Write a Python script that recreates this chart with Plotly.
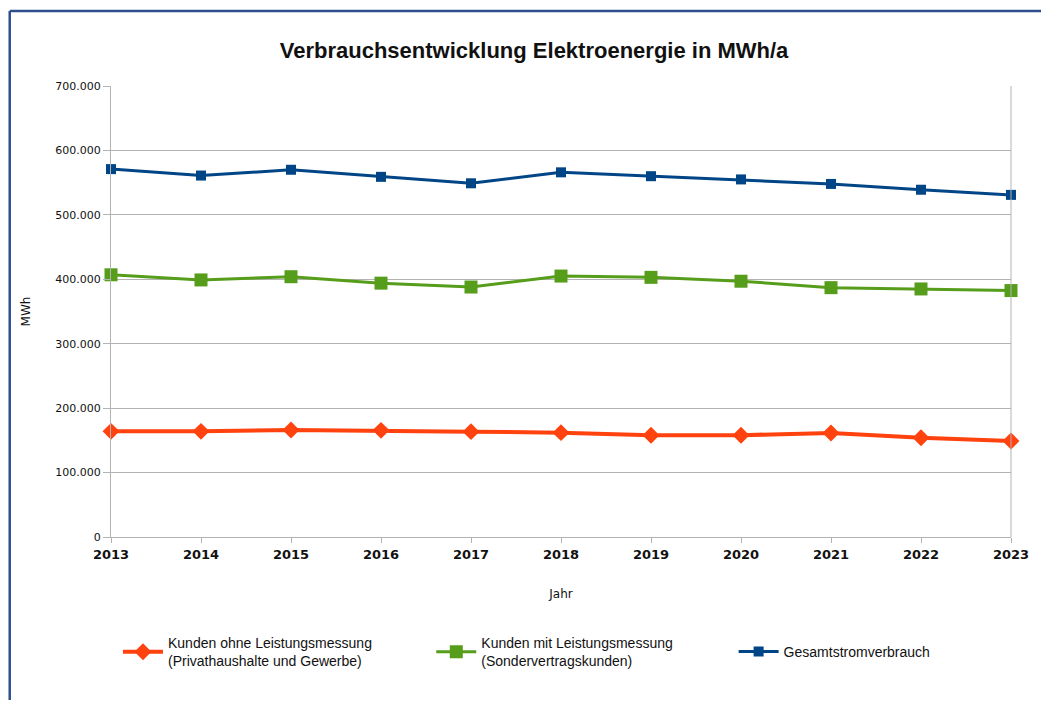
import plotly.graph_objects as go

jahre = [2013, 2014, 2015, 2016, 2017, 2018, 2019, 2020, 2021, 2022, 2023]
ohne_leistung = [164000, 164000, 166000, 165500, 163500, 162000, 158000, 158000, 161500, 154000, 149000]
mit_leistung = [407000, 399000, 404000, 394000, 388000, 405000, 403000, 397000, 387000, 385000, 382500]
gesamt = [571000, 561000, 570000, 559000, 549000, 566000, 560000, 555000, 548000, 539000, 531000]
y_ticks = [0, 100000, 200000, 300000, 400000, 500000, 600000, 700000]
y_ticktext = ["0", "100.000", "200.000", "300.000", "400.000", "500.000", "600.000", "700.000"]

names = ["Kunden ohne Leistungsmessung<br>(Privathaushalte und Gewerbe)",
         "Kunden mit Leistungsmessung<br>(Sondervertragskunden)",
         "Gesamtstromverbrauch"]

RED = "#FF420E"
GREEN = "#579D1C"
BLUE = "#004586"

# page has an 8px body margin; figure is laid out so page coordinates match the reference
OFF = 8
W, H = 1049 - 2 * OFF, 708 - 2 * OFF
PL, PR, PT, PB = 111, 1013, 86, 537  # plot area in page pixels
L = PL - OFF
R = W - (PR - OFF)
T = PT - OFF
B = H - (PB - OFF)
pw, ph = PR - PL, PB - PT

def px(x):
    return (x - PL) / pw

def py(y):
    return (PB - y) / ph

fig = go.Figure()
fig.add_trace(go.Scatter(x=jahre, y=ohne_leistung, name=names[0], mode="lines+markers",
                         line=dict(color=RED, width=4),
                         marker=dict(symbol="diamond", size=13, color=RED), cliponaxis=False,
                         legend="legend"))
fig.add_trace(go.Scatter(x=jahre, y=mit_leistung, name=names[1], mode="lines+markers",
                         line=dict(color=GREEN, width=3),
                         marker=dict(symbol="square", size=13, color=GREEN), cliponaxis=False,
                         legend="legend2"))
fig.add_trace(go.Scatter(x=jahre, y=gesamt, name=names[2], mode="lines+markers",
                         line=dict(color=BLUE, width=3),
                         marker=dict(symbol="square", size=10, color=BLUE), cliponaxis=False,
                         legend="legend3"))

legfont = dict(family="Liberation Sans", size=14, color="#111111")

def leg(xpage):
    return dict(orientation="h", x=px(xpage), xanchor="left", y=py(652), yanchor="middle",
                font=legfont, itemwidth=40, bgcolor="rgba(0,0,0,0)", borderwidth=0)

fig.update_layout(
    width=W, height=H,
    margin=dict(l=L, r=R, t=T, b=B),
    paper_bgcolor="white", plot_bgcolor="white",
    separators=",.",
    title=dict(text="<b>Verbrauchsentwicklung Elektroenergie in MWh/a</b>",
               xref="paper", x=px(535), xanchor="center", y=1 - (50 - OFF) / H, yanchor="middle",
               font=dict(family="Liberation Sans", size=22, color="#111111")),
    xaxis=dict(range=[2013, 2023], tickmode="array", tickvals=jahre, ticktext=[str(j) for j in jahre],
               showgrid=False, showline=True, linecolor="#b3b3b3", linewidth=1,
               ticks="outside", ticklen=5, tickcolor="#b3b3b3",
               tickfont=dict(family="DejaVu Sans", size=13, color="#111111", weight="bold"),
               title=dict(text="Jahr", font=dict(family="DejaVu Sans", size=12, color="#111111"), standoff=29),
               zeroline=False),
    yaxis=dict(range=[0, 700000], tickmode="array", tickvals=y_ticks, ticktext=y_ticktext,
               showgrid=True, gridcolor="#b3b3b3", gridwidth=1,
               showline=True, linecolor="#b3b3b3", linewidth=1,
               ticks="outside", ticklen=7, tickcolor="#b3b3b3",
               tickfont=dict(family="DejaVu Sans", size=11, color="#111111"),
               title=dict(text="MWh", font=dict(family="DejaVu Sans", size=12, color="#111111"), standoff=22),
               zeroline=False),
    legend=leg(118),
    legend2=leg(432),
    legend3=leg(735),
    showlegend=True,
)

# right border of plot area
fig.add_shape(type="line", xref="paper", yref="paper", x0=1, x1=1, y0=0, y1=1,
              line=dict(color="#b3b3b3", width=1))
# outer frame (top and left)
fig.add_shape(type="line", xref="paper", yref="paper", x0=px(9.5), x1=px(1060), y0=py(11), y1=py(11),
              line=dict(color="#2F4F8F", width=2.5))
fig.add_shape(type="line", xref="paper", yref="paper", x0=px(9.5), x1=px(9.5), y0=py(11), y1=py(720),
              line=dict(color="#2F4F8F", width=2.5))

fig.write_html("out.html")
